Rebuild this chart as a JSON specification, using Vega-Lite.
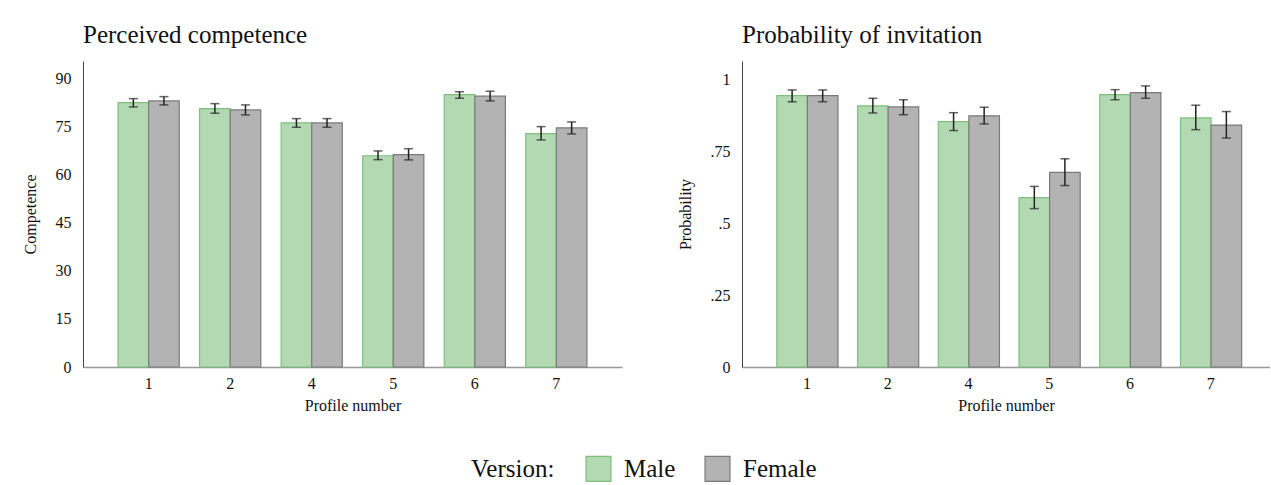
{
  "$schema": "https://vega.github.io/schema/vega-lite/v6.json",
  "padding": {"left": 22, "top": 23, "right": 0, "bottom": 0},
  "config": {
    "font": "Liberation Serif",
    "view": {"stroke": null},
    "axis": {"grid": false, "ticks": false, "labelFont": "Liberation Serif", "titleFont": "Liberation Serif", "labelColor": "#111", "titleColor": "#111", "labelFontSize": 16, "titleFontSize": 16, "titleFontWeight": "normal"},
    "axisX": {"domainColor": "#999", "domainWidth": 1.5, "labelPadding": 8, "titlePadding": 6, "labelAngle": 0},
    "axisY": {"domainColor": "#444", "domainWidth": 1, "labelPadding": 12, "titlePadding": 17},
    "title": {"font": "Liberation Serif", "fontSize": 25, "fontWeight": "normal", "anchor": "start", "frame": "group", "color": "#111", "baseline": "alphabetic", "offset": 13},
    "legend": {"titleFont": "Liberation Serif", "labelFont": "Liberation Serif", "titleFontSize": 25, "labelFontSize": 25, "titleFontWeight": "normal", "titleColor": "#111", "labelColor": "#111"}
  },
  "datasets": {
    "rows": [
      {"measure": "competence", "profile": "1", "version": "Male", "mean": 82.6, "lo": 81.25, "hi": 83.84},
      {"measure": "competence", "profile": "1", "version": "Female", "mean": 83.13, "lo": 81.88, "hi": 84.47},
      {"measure": "competence", "profile": "2", "version": "Male", "mean": 80.72, "lo": 79.28, "hi": 82.28},
      {"measure": "competence", "profile": "2", "version": "Female", "mean": 80.31, "lo": 78.75, "hi": 81.88},
      {"measure": "competence", "profile": "4", "version": "Male", "mean": 76.25, "lo": 74.9, "hi": 77.6},
      {"measure": "competence", "profile": "4", "version": "Female", "mean": 76.25, "lo": 74.9, "hi": 77.6},
      {"measure": "competence", "profile": "5", "version": "Male", "mean": 66.0, "lo": 64.78, "hi": 67.5},
      {"measure": "competence", "profile": "5", "version": "Female", "mean": 66.35, "lo": 64.7, "hi": 68.2},
      {"measure": "competence", "profile": "6", "version": "Male", "mean": 85.1, "lo": 83.97, "hi": 86.0},
      {"measure": "competence", "profile": "6", "version": "Female", "mean": 84.6, "lo": 83.13, "hi": 86.16},
      {"measure": "competence", "profile": "7", "version": "Male", "mean": 72.9, "lo": 70.94, "hi": 75.1},
      {"measure": "competence", "profile": "7", "version": "Female", "mean": 74.7, "lo": 72.81, "hi": 76.56},
      {"measure": "invitation", "profile": "1", "version": "Male", "mean": 0.942, "lo": 0.921, "hi": 0.962},
      {"measure": "invitation", "profile": "1", "version": "Female", "mean": 0.942, "lo": 0.921, "hi": 0.962},
      {"measure": "invitation", "profile": "2", "version": "Male", "mean": 0.907, "lo": 0.882, "hi": 0.933},
      {"measure": "invitation", "profile": "2", "version": "Female", "mean": 0.903, "lo": 0.876, "hi": 0.928},
      {"measure": "invitation", "profile": "4", "version": "Male", "mean": 0.852, "lo": 0.821, "hi": 0.883},
      {"measure": "invitation", "profile": "4", "version": "Female", "mean": 0.872, "lo": 0.844, "hi": 0.902},
      {"measure": "invitation", "profile": "5", "version": "Male", "mean": 0.588, "lo": 0.55, "hi": 0.627},
      {"measure": "invitation", "profile": "5", "version": "Female", "mean": 0.676, "lo": 0.63, "hi": 0.723},
      {"measure": "invitation", "profile": "6", "version": "Male", "mean": 0.946, "lo": 0.928, "hi": 0.963},
      {"measure": "invitation", "profile": "6", "version": "Female", "mean": 0.953, "lo": 0.933, "hi": 0.976},
      {"measure": "invitation", "profile": "7", "version": "Male", "mean": 0.865, "lo": 0.824, "hi": 0.909},
      {"measure": "invitation", "profile": "7", "version": "Female", "mean": 0.84, "lo": 0.795, "hi": 0.887}
    ]
  },
  "data": {"name": "rows"},
  "spacing": 55,
  "hconcat": [
    {
      "title": "Perceived competence",
      "width": 539,
      "height": 306,
      "transform": [{"filter": "datum.measure === 'competence'"}],
      "encoding": {
        "x": {"field": "profile", "type": "nominal", "title": "Profile number", "scale": {"paddingInner": 0.25, "paddingOuter": 0.43}},
        "xOffset": {"field": "version", "type": "nominal", "sort": ["Male", "Female"], "scale": {"paddingInner": 0, "paddingOuter": 0}}
      },
      "layer": [
        {
          "mark": {"type": "bar", "strokeWidth": 1.2},
          "encoding": {
            "y": {"field": "mean", "type": "quantitative", "title": "Competence", "scale": {"domain": [0, 95.6], "nice": false}, "axis": {"values": [0, 15, 30, 45, 60, 75, 90]}},
            "fill": {"field": "version", "type": "nominal", "sort": ["Male", "Female"], "scale": {"domain": ["Male", "Female"], "range": ["#b3d9b3", "#b3b3b3"]}, "legend": {"title": "Version:", "orient": "none", "direction": "horizontal", "titleOrient": "left", "legendX": 388, "legendY": 394, "symbolType": "square", "symbolSize": 620, "symbolStrokeWidth": 1.2, "labelOffset": 12, "columnPadding": 26, "titlePadding": 30, "labelFont": "Liberation Serif", "titleFont": "Liberation Serif", "labelFontSize": 25, "titleFontSize": 25}},
            "stroke": {"field": "version", "type": "nominal", "sort": ["Male", "Female"], "scale": {"domain": ["Male", "Female"], "range": ["#7cc07c", "#7a7a7a"]}, "legend": {"title": "Version:", "orient": "none", "direction": "horizontal", "titleOrient": "left", "legendX": 388, "legendY": 394, "symbolType": "square", "symbolSize": 620, "symbolStrokeWidth": 1.2, "labelOffset": 12, "columnPadding": 26, "titlePadding": 30, "labelFont": "Liberation Serif", "titleFont": "Liberation Serif", "labelFontSize": 25, "titleFontSize": 25}}
          }
        },
        {
          "mark": {"type": "rule", "color": "#222", "strokeWidth": 1.5},
          "encoding": {"y": {"field": "lo", "type": "quantitative"}, "y2": {"field": "hi"}}
        },
        {
          "mark": {"type": "tick", "color": "#222", "thickness": 1.5, "size": 9},
          "encoding": {"y": {"field": "lo", "type": "quantitative"}}
        },
        {
          "mark": {"type": "tick", "color": "#222", "thickness": 1.5, "size": 9},
          "encoding": {"y": {"field": "hi", "type": "quantitative"}}
        }
      ]
    },
    {
      "title": "Probability of invitation",
      "width": 528,
      "height": 306,
      "transform": [{"filter": "datum.measure === 'invitation'"}],
      "encoding": {
        "x": {"field": "profile", "type": "nominal", "title": "Profile number", "scale": {"paddingInner": 0.25, "paddingOuter": 0.395, "align": 0.546}},
        "xOffset": {"field": "version", "type": "nominal", "sort": ["Male", "Female"], "scale": {"paddingInner": 0, "paddingOuter": 0}}
      },
      "layer": [
        {
          "mark": {"type": "bar", "strokeWidth": 1.2},
          "encoding": {
            "y": {"field": "mean", "type": "quantitative", "title": "Probability", "scale": {"domain": [0, 1.0625], "nice": false}, "axis": {"values": [0, 0.25, 0.5, 0.75, 1], "labelExpr": "replace(format(datum.value, '.2~f'), '0.', '.')"}},
            "fill": {"field": "version", "type": "nominal", "sort": ["Male", "Female"]},
            "stroke": {"field": "version", "type": "nominal", "sort": ["Male", "Female"]}
          }
        },
        {
          "mark": {"type": "rule", "color": "#222", "strokeWidth": 1.5},
          "encoding": {"y": {"field": "lo", "type": "quantitative"}, "y2": {"field": "hi"}}
        },
        {
          "mark": {"type": "tick", "color": "#222", "thickness": 1.5, "size": 9},
          "encoding": {"y": {"field": "lo", "type": "quantitative"}}
        },
        {
          "mark": {"type": "tick", "color": "#222", "thickness": 1.5, "size": 9},
          "encoding": {"y": {"field": "hi", "type": "quantitative"}}
        }
      ]
    }
  ]
}
